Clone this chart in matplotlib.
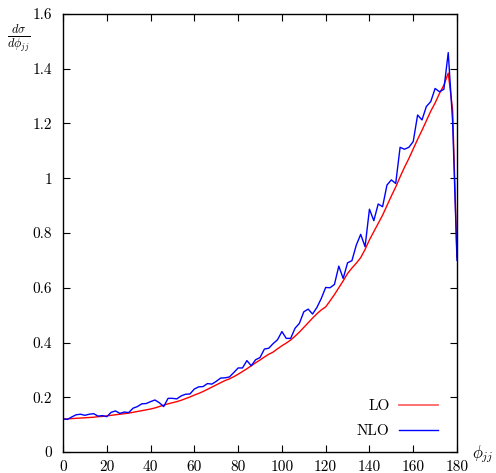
import matplotlib
matplotlib.use("Agg")
import matplotlib.pyplot as plt
from matplotlib.lines import Line2D

plt.rcParams["font.family"] = "serif"
plt.rcParams["font.serif"] = ["cmr10"]
plt.rcParams["mathtext.fontset"] = "cm"
plt.rcParams["axes.formatter.use_mathtext"] = True

# azimuthal dijet separation (degrees), 2-degree steps
phi = list(range(0, 181, 2))

# leading-order distribution
lo = [0.120, 0.121, 0.122, 0.123, 0.124, 0.125, 0.126, 0.127, 0.129, 0.130,
      0.132, 0.134, 0.136, 0.138, 0.140, 0.142, 0.145, 0.148, 0.151, 0.154,
      0.157, 0.161, 0.166, 0.171, 0.176, 0.180, 0.184, 0.189, 0.195, 0.201,
      0.208, 0.214, 0.221, 0.229, 0.237, 0.245, 0.253, 0.261, 0.267, 0.275,
      0.284, 0.294, 0.304, 0.315, 0.326, 0.336, 0.347, 0.357, 0.365, 0.377,
      0.388, 0.398, 0.409, 0.423, 0.438, 0.455, 0.472, 0.489, 0.505, 0.519,
      0.530, 0.552, 0.575, 0.600, 0.625, 0.652, 0.672, 0.690, 0.710, 0.740,
      0.775, 0.805, 0.835, 0.865, 0.900, 0.935, 0.968, 1.005, 1.040, 1.072,
      1.107, 1.142, 1.175, 1.210, 1.245, 1.275, 1.310, 1.340, 1.384, 1.250,
      0.710]

# next-to-leading-order distribution
nlo = [0.121, 0.119, 0.128, 0.136, 0.138, 0.134, 0.138, 0.140, 0.131, 0.133,
       0.129, 0.145, 0.150, 0.141, 0.146, 0.144, 0.160, 0.166, 0.176, 0.177,
       0.184, 0.190, 0.180, 0.166, 0.196, 0.196, 0.194, 0.205, 0.211, 0.212,
       0.230, 0.238, 0.239, 0.250, 0.248, 0.258, 0.270, 0.271, 0.274, 0.290,
       0.307, 0.307, 0.334, 0.315, 0.337, 0.345, 0.376, 0.379, 0.396, 0.410,
       0.440, 0.415, 0.415, 0.452, 0.470, 0.512, 0.522, 0.504, 0.528, 0.561,
       0.601, 0.600, 0.612, 0.679, 0.634, 0.691, 0.699, 0.756, 0.795, 0.750,
       0.887, 0.845, 0.906, 0.896, 0.975, 0.994, 0.981, 1.113, 1.106, 1.113,
       1.134, 1.231, 1.213, 1.262, 1.280, 1.328, 1.316, 1.325, 1.459, 1.207,
       0.700]

xticks = [0, 20, 40, 60, 80, 100, 120, 140, 160, 180]
yticks = [0, 0.2, 0.4, 0.6, 0.8, 1, 1.2, 1.4, 1.6]
ytick_labels = ["0", "0.2", "0.4", "0.6", "0.8", "1", "1.2", "1.4", "1.6"]

fig = plt.figure(figsize=(4.96, 4.73), dpi=100)
ax = fig.add_axes([63 / 496, 1 - 452 / 473, 394 / 496, 438 / 473])

ax.plot(phi, lo, color="#ff0000", lw=1.0)
ax.plot(phi, nlo, color="#0000ff", lw=1.0)

ax.set_xlim(0, 180)
ax.set_ylim(0, 1.6)
ax.set_xticks(xticks)
ax.set_xticklabels([str(t) for t in xticks])
ax.set_yticks(yticks)
ax.set_yticklabels(ytick_labels)
ax.tick_params(direction="in", top=True, right=True, length=5, width=0.8,
               labelsize=11)
ax.tick_params(axis="x", pad=6)
ax.tick_params(axis="y", pad=8)
for s in ax.spines.values():
    s.set_linewidth(1.0)

fig.text(19 / 496, 1 - 38 / 473, r"$\frac{d\sigma}{d\phi_{jj}}$",
         ha="center", va="center", fontsize=12.5)
fig.text(483 / 496, 1 - 454 / 473, r"$\phi_{jj}$",
         ha="center", va="center", fontsize=12)

handles = [Line2D([], [], color="#ff6666", lw=1.3),
           Line2D([], [], color="#0000ff", lw=1.0)]
ax.legend(handles, ["LO", "NLO"], loc="lower right", markerfirst=False,
          frameon=False, fontsize=11, handlelength=2.55, handletextpad=0.6,
          labelspacing=0.75, bbox_to_anchor=(0.986, 0.0))

fig.savefig("out.png", dpi=100)
